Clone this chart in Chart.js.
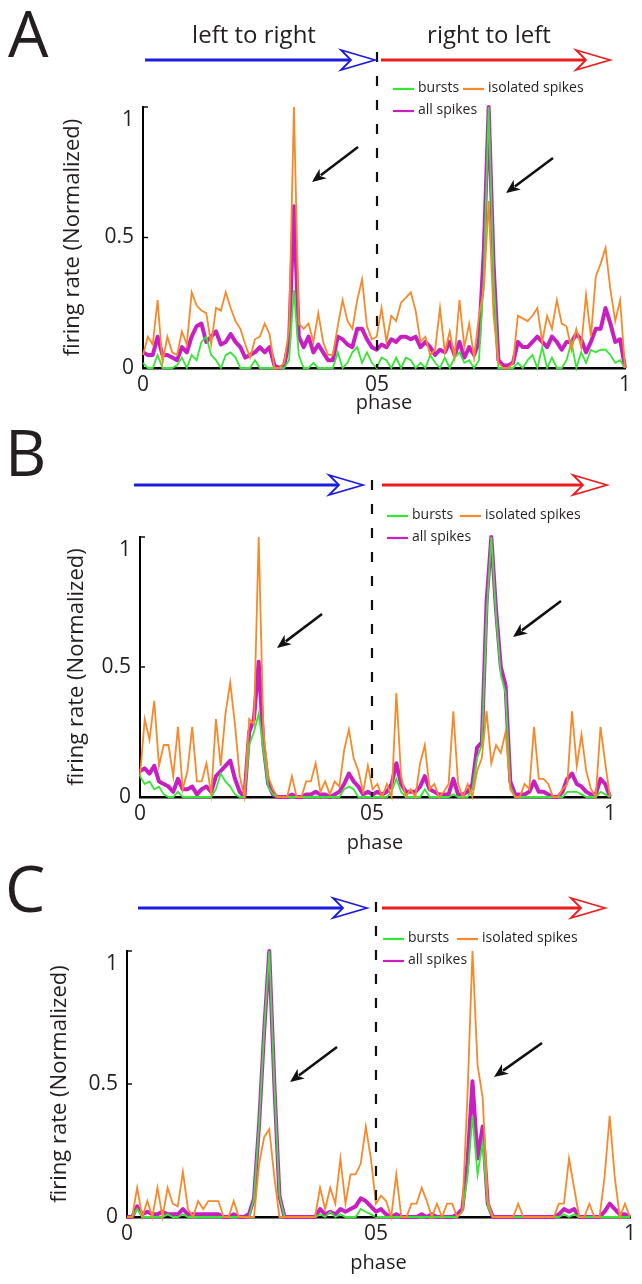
<!DOCTYPE html>
<html><head><meta charset="utf-8">
<script src="https://cdn.jsdelivr.net/npm/chart.js@4.4.1/dist/chart.umd.min.js"></script>
<style>
html,body{margin:0;padding:0;background:#fff;}
#wrap{position:relative;width:642px;height:1284px;overflow:hidden;background:#fff;}
canvas{position:absolute;left:0;top:0;}
</style></head><body>
<div id="wrap">
<canvas id="cA" width="642" height="1284"></canvas>
<canvas id="cB" width="642" height="1284"></canvas>
<canvas id="cC" width="642" height="1284"></canvas>
</div>
<script>
// ---------- data ----------
const yTicks = [0, 0.5, 1];
const yTickLabels = ['0', '0.5', '1'];
const xTickLabels = ['0', '05', '1'];
const seriesNames = ['bursts', 'isolated spikes', 'all spikes'];
const directionLabels = ['left to right', 'right to left'];
const axisTitleX = 'phase';
const axisTitleY = 'firing rate (Normalized)';
// phase of the 100 bins (0 ... 1)
const phase = Array.from({length: 100}, (_, i) => i / 99);
// phase where the direction changes (dashed separator, "05" tick)
const dividerPhase = [0.4855, 0.4936, 0.495];

const burstsA = [0.02,0,0,0.05,0,0,0,0.01,0.04,0,
 0.05,0.03,0.10,0.12,0.05,0.03,0,0.05,0.06,0.04,
 0,0,0,0.03,0,0,0,0,0,0,
 0.03,0.30,0.05,0,0,0.02,0,0,0,0,
 0.06,0,0.02,0.06,0.08,0.02,0.06,0.02,0,0.04,
 0.03,0,0.04,0,0.04,0.03,0,0.02,0,0.05,
 0.02,0,0.04,0,0.04,0.06,0.02,0.03,0,0.03,
 0.35,1.0,0.35,0,0,0,0,0.02,0,0.03,
 0.05,0,0.08,0,0.04,0,0,0.03,0.10,0,
 0.06,0.02,0.07,0.06,0.07,0.07,0.05,0.02,0.03,0];
const isolatedA = [0.05,0.12,0.09,0.26,0.02,0.12,0.06,0.05,0.14,0.09,
 0.29,0.24,0.22,0.21,0.09,0.23,0.22,0.29,0.23,0.18,
 0.15,0.09,0.04,0.11,0.12,0.17,0.13,0,0,0.02,
 0.15,1.0,0.17,0.15,0.17,0.10,0.21,0.10,0.05,0.05,
 0.16,0.26,0.18,0.15,0.26,0.34,0.16,0.11,0.12,0.23,
 0.10,0.20,0.18,0.25,0.27,0.29,0.22,0.10,0.12,0.05,
 0.07,0.23,0.06,0.14,0.04,0.26,0.08,0.17,0.04,0.20,
 0.30,0.64,0.20,0.02,0,0,0.02,0.20,0.19,0.18,
 0.20,0.23,0.10,0.20,0.15,0.26,0.17,0.16,0.07,0.15,
 0.08,0.28,0.12,0.35,0.40,0.46,0.30,0.18,0.26,0];
const allA = [0.06,0.05,0.05,0.12,0.05,0.05,0.04,0.03,0.08,0.06,
 0.12,0.16,0.17,0.10,0.12,0.14,0.09,0.10,0.13,0.10,
 0.08,0.04,0.05,0.06,0.08,0.06,0.08,0.01,0,0.01,
 0.10,0.62,0.12,0.08,0.12,0.06,0.09,0.06,0.03,0.03,
 0.12,0.11,0.09,0.08,0.15,0.15,0.11,0.08,0.07,0.09,
 0.08,0.11,0.10,0.12,0.12,0.11,0.12,0.08,0.10,0.08,
 0.05,0.07,0.06,0.10,0.05,0.10,0.04,0.08,0.05,0.10,
 0.45,1.0,0.40,0.03,0.01,0.01,0.02,0.10,0.08,0.08,
 0.10,0.12,0.10,0.08,0.12,0.10,0.07,0.10,0.10,0.13,
 0.11,0.06,0.10,0.15,0.15,0.23,0.17,0.10,0.11,0];

const burstsB = [0.08,0.05,0.06,0.03,0.04,0.01,0,0,0.02,0,
 0,0,0,0,0,0,0.03,0.09,0.06,0.04,
 0.01,0,0,0.20,0.25,0.32,0.18,0.04,0.01,0,
 0,0,0,0,0,0,0,0,0,0,
 0,0,0,0.03,0.04,0.03,0,0,0,0,
 0,0,0,0.02,0.07,0.02,0,0,0,0,
 0.03,0,0,0,0,0,0.01,0,0,0,
 0.03,0.15,0.20,0.70,1.0,0.70,0.47,0.40,0.04,0,
 0,0,0,0,0,0,0,0,0,0,
 0.02,0.02,0.02,0.01,0,0,0,0.02,0.01,0];
const isolatedB = [0.08,0.30,0.22,0.37,0.12,0.20,0.20,0.08,0.27,0.03,
 0.10,0.27,0.06,0.06,0.13,0.01,0.30,0.12,0.32,0.44,
 0.28,0.08,0,0.30,0.28,1.0,0.25,0.08,0.03,0,
 0,0,0.08,0,0,0.06,0.06,0.13,0.02,0.06,
 0.01,0.06,0.04,0.18,0.26,0.15,0.10,0.02,0.12,0.03,
 0.05,0,0.05,0,0.40,0.08,0,0.03,0,0.13,
 0.20,0.03,0.05,0,0.02,0.05,0.33,0.05,0,0.05,
 0,0.10,0.15,0.33,0.13,0.20,0.17,0.25,0.03,0,
 0,0.05,0.03,0.27,0.07,0.07,0.05,0,0,0.03,
 0.05,0.33,0.12,0.24,0.10,0.03,0,0.27,0.13,0];
const allB = [0.10,0.11,0.09,0.12,0.06,0.05,0.04,0.02,0.07,0.03,
 0.03,0.04,0.01,0.03,0.04,0.02,0.08,0.10,0.12,0.14,
 0.07,0.02,0,0.25,0.30,0.52,0.20,0.05,0.01,0,
 0,0,0.01,0,0,0.01,0.01,0.02,0.01,0.01,
 0,0.01,0.02,0.05,0.09,0.06,0.04,0.01,0.02,0.01,
 0.02,0.01,0.02,0.05,0.13,0.05,0.02,0.02,0.02,0.04,
 0.08,0.03,0.02,0.01,0.01,0.01,0.07,0.01,0.01,0.02,
 0.05,0.19,0.21,0.75,1.0,0.72,0.50,0.43,0.06,0.01,
 0.01,0.01,0.02,0.06,0.02,0.02,0.01,0,0,0.02,
 0.07,0.09,0.05,0.04,0.02,0.01,0.01,0.07,0.05,0];

const burstsC = [0,0,0.03,0,0,0,0,0,0.01,0,
 0,0.01,0,0,0,0,0,0,0,0,
 0,0,0,0,0,0.07,0.35,0.70,1.0,0.50,
 0.08,0,0,0,0,0,0,0,0.01,0,
 0.02,0,0.01,0,0,0,0.03,0.02,0.01,0,
 0,0,0,0,0,0,0,0,0,0,
 0,0,0,0,0,0,0.02,0.15,0.38,0.16,
 0.28,0.04,0,0,0,0,0,0,0,0,
 0,0,0,0,0,0,0.01,0,0.01,0,
 0,0,0,0,0,0,0,0,0,0];
const isolatedC = [0,0,0.11,0,0.06,0,0.11,0,0.11,0.05,
 0.04,0.17,0.03,0,0.06,0.03,0.06,0.06,0.06,0,
 0,0.06,0,0,0,0,0.20,0.30,0.33,0.15,
 0,0,0,0,0,0,0,0,0.11,0.03,
 0.11,0.05,0.22,0.05,0.16,0.16,0.20,0.34,0.22,0.05,
 0.08,0.06,0,0.16,0,0,0.05,0.05,0.11,0.06,
 0,0.05,0,0.05,0.05,0,0.02,0.45,1.0,0.57,
 0.45,0.06,0,0,0,0,0,0.05,0,0,
 0,0,0,0,0,0.05,0.05,0.22,0.11,0,
 0,0.05,0,0,0.15,0.38,0.15,0,0.05,0];
const allC = [0,0,0.04,0.01,0.02,0.01,0.01,0.02,0.01,0.01,
 0.01,0.03,0.01,0.01,0.01,0.01,0.01,0.01,0.01,0,
 0,0.01,0,0,0.01,0.07,0.35,0.70,1.0,0.50,
 0.08,0,0,0,0,0,0,0,0.03,0.01,
 0.02,0.01,0.03,0.02,0.03,0.04,0.07,0.06,0.04,0.02,
 0.03,0.01,0,0.01,0,0,0,0,0.01,0,
 0.01,0,0,0,0,0.01,0.03,0.20,0.51,0.22,
 0.34,0.05,0,0,0,0,0,0,0,0,
 0,0,0,0,0,0.01,0.03,0.02,0.03,0,
 0,0,0,0,0.02,0.05,0.03,0.01,0.01,0];

// ---------- style ----------
const GREEN = '#35e635', ORANGE = '#f6892a', MAGENTA = '#c81fc0';
const BLUE = '#1c1ce0', RED = '#ec1c1c', INK = '#231f20';
const FONT = '"Open Sans", "DejaVu Sans", sans-serif';
Chart.defaults.font.family = FONT;
Chart.defaults.color = INK;

const panels = [
  {id:'cA', letter:'A', area:{l:143,r:625,t:107,b:368}, xTitleY:403, yTitleX:73, divider:dividerPhase[0],
   arrowY:60, dashTop:52, letterX:8, letterY:57, dirTextY:36, dirTextX:[254,489],
   blue:[145,375], red:[381,610], legendX:393, legendX2:463, legendY:88,
   annot:[[358,147,312,182],[553,158,506,193]],
   bursts:burstsA, isolated:isolatedA, all:allA},
  {id:'cB', letter:'B', area:{l:140,r:610,t:537,b:797}, xTitleY:843, yTitleX:77, divider:dividerPhase[1],
   arrowY:485, dashTop:480, letterX:5, letterY:476, dirTextY:null,
   blue:[134,363], red:[382,607], legendX:387, legendX2:460, legendY:515,
   annot:[[322,614,277,648],[561,601,513,637]],
   bursts:burstsB, isolated:isolatedB, all:allB},
  {id:'cC', letter:'C', area:{l:127,r:630,t:951,b:1217}, xTitleY:1263, yTitleX:60, divider:dividerPhase[2],
   arrowY:908, dashTop:902, letterX:5, letterY:912, dirTextY:null,
   blue:[138,367], red:[382,605], legendX:383, legendX2:457, legendY:938,
   annot:[[337,1047,290,1082],[542,1043,494,1077]],
   bursts:burstsC, isolated:isolatedC, all:allC}
];

function dirArrow(ctx, x0, x1, y, col) {
  const L = 34, H = 10, notch = 24;
  ctx.strokeStyle = col; ctx.lineCap = 'butt';
  ctx.lineWidth = 3.2;
  ctx.beginPath(); ctx.moveTo(x0, y); ctx.lineTo(x1 - notch + 1, y); ctx.stroke();
  ctx.lineWidth = 1.8; ctx.lineJoin = 'miter'; ctx.fillStyle = '#fff';
  ctx.beginPath(); ctx.moveTo(x1, y); ctx.lineTo(x1 - L, y - H); ctx.lineTo(x1 - notch, y);
  ctx.lineTo(x1 - L, y + H); ctx.closePath(); ctx.fill(); ctx.stroke();
}
function annotArrow(ctx, x0, y0, x1, y1) {
  const a = Math.atan2(y1 - y0, x1 - x0), hl = 14, hw = 6;
  const bx = x1 - hl * Math.cos(a), by = y1 - hl * Math.sin(a);
  ctx.strokeStyle = '#111'; ctx.lineWidth = 2.6; ctx.lineCap = 'butt';
  ctx.beginPath(); ctx.moveTo(x0, y0); ctx.lineTo(bx + 3 * Math.cos(a), by + 3 * Math.sin(a)); ctx.stroke();
  ctx.fillStyle = '#111';
  ctx.beginPath(); ctx.moveTo(x1, y1);
  ctx.lineTo(bx - hw * Math.sin(a), by + hw * Math.cos(a));
  ctx.lineTo(bx + 4 * Math.cos(a), by + 4 * Math.sin(a));
  ctx.lineTo(bx + hw * Math.sin(a), by - hw * Math.cos(a));
  ctx.closePath(); ctx.fill();
}

function makeDecor(p) {
  return {
    id: 'decor',
    afterDraw(chart) {
      const ctx = chart.ctx, xs = chart.scales.x, ys = chart.scales.y, ca = chart.chartArea;
      ctx.save();
      // inward y tick marks
      ctx.strokeStyle = '#000'; ctx.lineWidth = 1.4;
      [0.5, 1].forEach(v => { const py = ys.getPixelForValue(v); ctx.beginPath(); ctx.moveTo(ca.left, py); ctx.lineTo(ca.left + 5, py); ctx.stroke(); });
      // dashed separator
      const dx = xs.getPixelForValue(p.divider);
      ctx.strokeStyle = '#111'; ctx.lineWidth = 2.2; ctx.setLineDash([10, 14]);
      ctx.beginPath(); ctx.moveTo(dx, p.dashTop); ctx.lineTo(dx, ca.bottom); ctx.stroke();
      ctx.setLineDash([]);
      // panel letter
      ctx.fillStyle = INK; ctx.textAlign = 'left'; ctx.textBaseline = 'alphabetic';
      ctx.font = '64px ' + FONT; ctx.fillText(p.letter, p.letterX, p.letterY);
      // direction arrows
      dirArrow(ctx, p.blue[0], p.blue[1], p.arrowY, BLUE);
      dirArrow(ctx, p.red[0], p.red[1], p.arrowY, RED);
      if (p.dirTextY) {
        ctx.fillStyle = INK; ctx.font = '24px ' + FONT; ctx.textAlign = 'center'; ctx.textBaseline = 'middle';
        ctx.fillText(directionLabels[0], p.dirTextX[0], p.dirTextY);
        ctx.fillText(directionLabels[1], p.dirTextX[1], p.dirTextY);
      }
      // legend
      const leg = [[p.legendX, p.legendY, GREEN, seriesNames[0]], [p.legendX2, p.legendY, ORANGE, seriesNames[1]], [p.legendX, p.legendY + 22, MAGENTA, seriesNames[2]]];
      ctx.font = '14px ' + FONT; ctx.textAlign = 'left'; ctx.textBaseline = 'middle';
      leg.forEach(([x, y, c, t]) => {
        ctx.strokeStyle = c; ctx.lineWidth = 2.2; ctx.beginPath(); ctx.moveTo(x, y + 1); ctx.lineTo(x + 21, y + 1); ctx.stroke();
        ctx.fillStyle = INK; ctx.fillText(t, x + 25, y);
      });
      // annotation arrows
      p.annot.forEach(a => annotArrow(ctx, a[0], a[1], a[2], a[3]));
      ctx.restore();
    }
  };
}

function makeChart(p) {
  const toXY = arr => arr.map((v, i) => ({x: phase[i], y: v}));
  const yTitleLH = 22 * 1.2, xTitleLH = 20 * 1.2;
  const padLeft = p.yTitleX - yTitleLH / 2;
  const xScaleBottom = p.xTitleY + xTitleLH / 2;
  new Chart(document.getElementById(p.id), {
    type: 'line',
    data: {datasets: [
      {label: seriesNames[1], data: toXY(p.isolated), borderColor: ORANGE, borderWidth: 1.8, order: 0},
      {label: seriesNames[0], data: toXY(p.bursts), borderColor: GREEN, borderWidth: 1.8, order: 1},
      {label: seriesNames[2], data: toXY(p.all), borderColor: MAGENTA, borderWidth: 4, order: 2, borderJoinStyle: 'round'}
    ]},
    options: {
      responsive: false, animation: false, events: [],
      layout: {padding: {left: padLeft, top: p.area.t, right: 642 - p.area.r, bottom: 1284 - xScaleBottom}},
      elements: {point: {radius: 0}, line: {tension: 0, fill: false}},
      datasets: {line: {clip: false}},
      plugins: {legend: {display: false}, tooltip: {enabled: false}},
      scales: {
        x: {type: 'linear', min: 0, max: 1,
          grid: {display: false, drawTicks: false},
          border: {display: true, color: '#000', width: 2.5},
          afterBuildTicks: s => { s.ticks = [{value: 0}, {value: p.divider}, {value: 1}]; },
          afterFit: s => { s.height = xScaleBottom - p.area.b; },
          ticks: {autoSkip: false, maxRotation: 0, padding: 4, color: INK, font: {size: 21}, callback: (v, i) => xTickLabels[i]},
          title: {display: true, text: axisTitleX, color: INK, font: {size: 20}, padding: 0}},
        y: {type: 'linear', min: 0, max: 1,
          grid: {display: false, drawTicks: false},
          border: {display: true, color: '#000', width: 2},
          afterBuildTicks: s => { s.ticks = yTicks.map(v => ({value: v})); },
          afterFit: s => { s.width = p.area.l - padLeft; },
          ticks: {padding: 9, color: INK, font: {size: 21}, callback: (v, i) => (i === yTicks.length - 1 ? ['', yTickLabels[i]] : yTickLabels[i])},
          title: {display: true, text: axisTitleY, color: INK, font: {size: 22}, padding: 0}}
      }
    },
    plugins: [makeDecor(p)]
  });
}
panels.forEach(makeChart);
</script>
</body></html>
